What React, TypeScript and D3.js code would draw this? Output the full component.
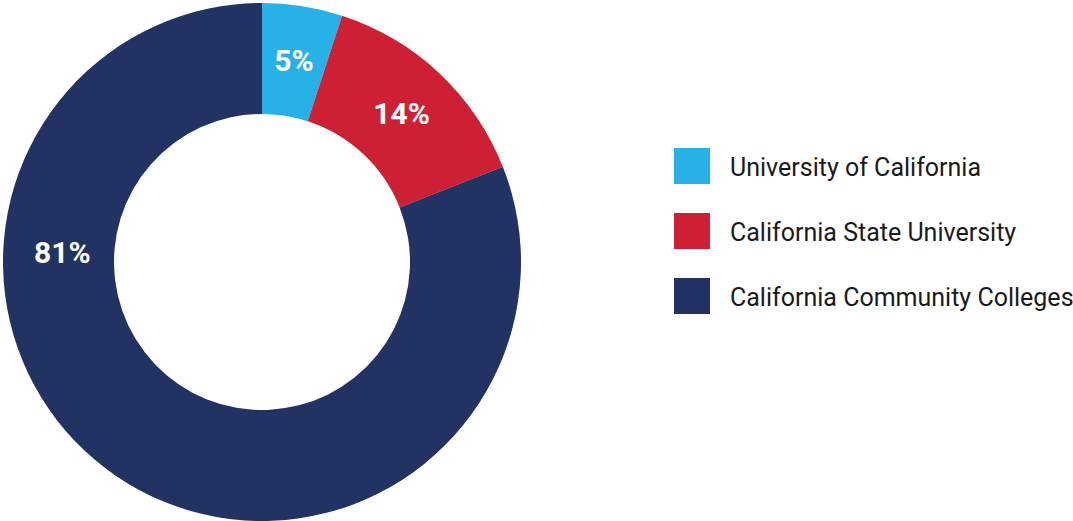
import React from "react";
import * as d3 from "d3";

const categories = ["University of California", "California State University", "California Community Colleges"];
const values = [5, 14, 81];
const labels = ["5%", "14%", "81%"];
const colors = ["#27B1E6", "#CE2035", "#213263"];

export default function App() {
  const width = 1073;
  const height = 521;
  const cx = 262;
  const cy = 262;
  const outerR = 259;
  const innerR = 148;

  const pie = d3.pie<number>().sort(null).value((d) => d);
  const arcs = pie(values);
  const arcGen = d3.arc<d3.PieArcDatum<number>>().innerRadius(innerR).outerRadius(outerR);
  const labelR = 204;

  const legendY = d3.scaleBand<string>().domain(categories).range([148, 148 + 65 * 3]).paddingInner(0);

  return (
    <svg width={width} height={height} style={{ position: "absolute", left: 0, top: 0, display: "block" }}>
      <rect width={width} height={height} fill="#ffffff" />
      <g transform={`translate(${cx},${cy})`}>
        {arcs.map((a, i) => (
          <path key={i} d={arcGen(a) || ""} fill={colors[i]} />
        ))}
        {arcs.map((a, i) => {
          let ang = (a.startAngle + a.endAngle) / 2;
          let r = labelR;
          if (i === 2) {
            ang = (3 * Math.PI) / 2 + 0.05;
            r = 200;
          }
          const x = Math.sin(ang) * r;
          const y = -Math.cos(ang) * r;
          return (
            <text
              key={i}
              x={x}
              y={y}
              textAnchor="middle"
              dominantBaseline="central"
              fill="#ffffff"
              fontFamily="Roboto, sans-serif"
              fontWeight={700}
              fontSize={30}
            >
              {labels[i]}
            </text>
          );
        })}
      </g>
      <g>
        {categories.map((c, i) => {
          const y0 = legendY(c) as number;
          return (
            <g key={c}>
              <rect x={674} y={y0} width={36} height={36} fill={colors[i]} />
              <text x={730} y={y0 + 27.5} fontFamily="Roboto, sans-serif" fontSize={25} fill="#1a1a1a">
                {c}
              </text>
            </g>
          );
        })}
      </g>
    </svg>
  );
}
